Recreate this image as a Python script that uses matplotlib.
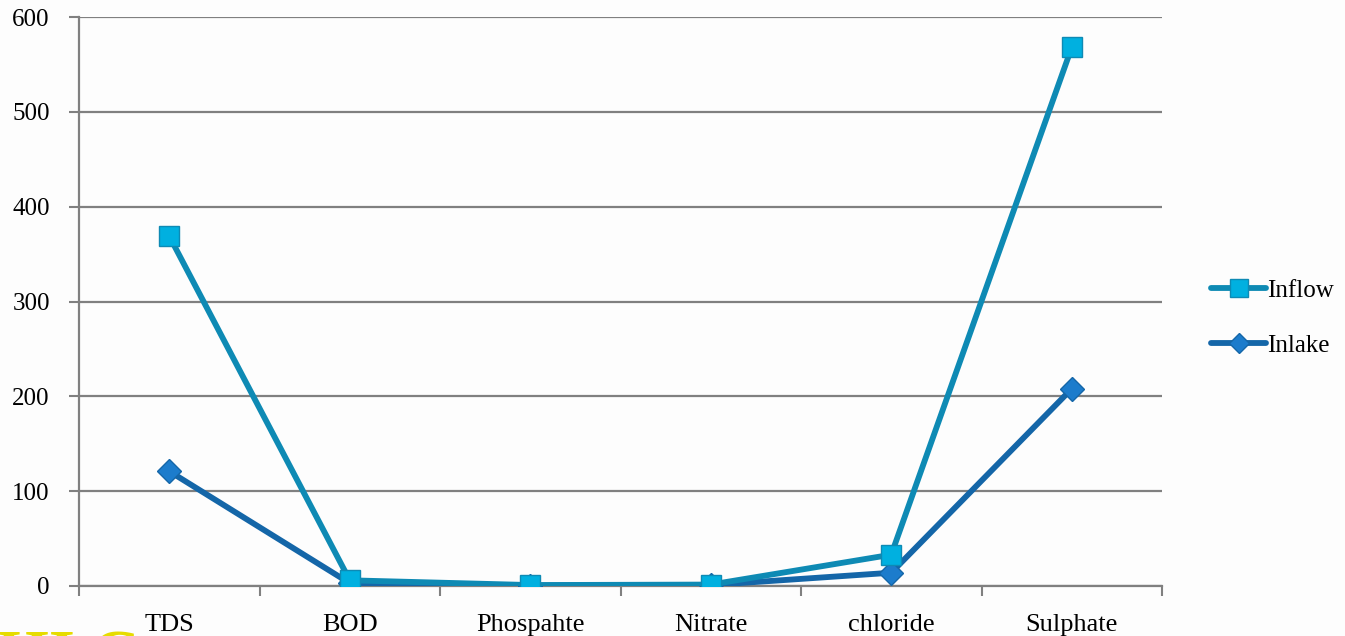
import matplotlib
matplotlib.use("Agg")
import matplotlib.pyplot as plt
from matplotlib.ticker import FixedLocator

categories = ["TDS", "BOD", "Phospahte", "Nitrate", "chloride", "Sulphate"]
inflow = [369, 6, 1, 1.5, 33, 568]
inlake = [121, 3, 0.5, 1, 14, 208]
yticks = [0, 100, 200, 300, 400, 500, 600]

plt.rcParams['font.family'] = ['Liberation Serif', 'DejaVu Serif']

fig = plt.figure(figsize=(13.45, 6.36), dpi=100)
fig.patch.set_facecolor('#fdfdfd')
ax = fig.add_axes([79/1345, 1-586/636, (1162-79)/1345, (586-17)/636])
ax.set_facecolor('none')

x = list(range(len(categories)))
ax.plot(x, inlake, color='#1466a8', lw=4.2, marker='D', ms=12,
        mfc='#1c7ccc', mec='#1466a8', mew=1, label='Inlake', zorder=3, solid_capstyle='round')
ax.plot(x, inflow, color='#0e8ab4', lw=4.2, marker='s', ms=15,
        mfc='#00b0e0', mec='#0e8ab4', mew=1, label='Inflow', zorder=4, solid_capstyle='round')

ax.set_xlim(-0.5, len(categories)-0.5)
ax.set_ylim(0, 600)
ax.set_yticks(yticks)
ax.set_yticklabels([str(v) for v in yticks], fontsize=18)
ax.set_xticks(x)
ax.set_xticklabels(categories, fontsize=19)
ax.tick_params(axis='x', length=0, pad=20)
ax.xaxis.set_minor_locator(FixedLocator([i - 0.5 for i in range(len(categories)+1)]))
ax.tick_params(axis='x', which='minor', length=7, width=1.5, color='#808080', direction='out')
ax.tick_params(axis='y', length=7, width=1.5, color='#808080', pad=14)
ax.grid(axis='y', color='#808080', lw=1.6, zorder=1)
for s in ['top', 'right']:
    ax.spines[s].set_visible(False)
for s in ['left', 'bottom']:
    ax.spines[s].set_color('#808080')
    ax.spines[s].set_linewidth(1.6)
ax.set_axisbelow(True)

handles, labels = ax.get_legend_handles_labels()
leg = fig.legend(handles[::-1], labels[::-1], loc='center left', bbox_to_anchor=(1206/1345, 1-318/636),
                 frameon=False, fontsize=18, handlelength=2.2, handletextpad=0.05,
                 labelspacing=1.3, markerscale=0.85, borderaxespad=0, borderpad=0.2)

fig.text(-0.002, -0.085, "HI Ct", color='#e6dc00', fontsize=48, fontweight='bold', va='bottom', ha='left')

fig.savefig('out.png', dpi=100, facecolor=fig.get_facecolor())
